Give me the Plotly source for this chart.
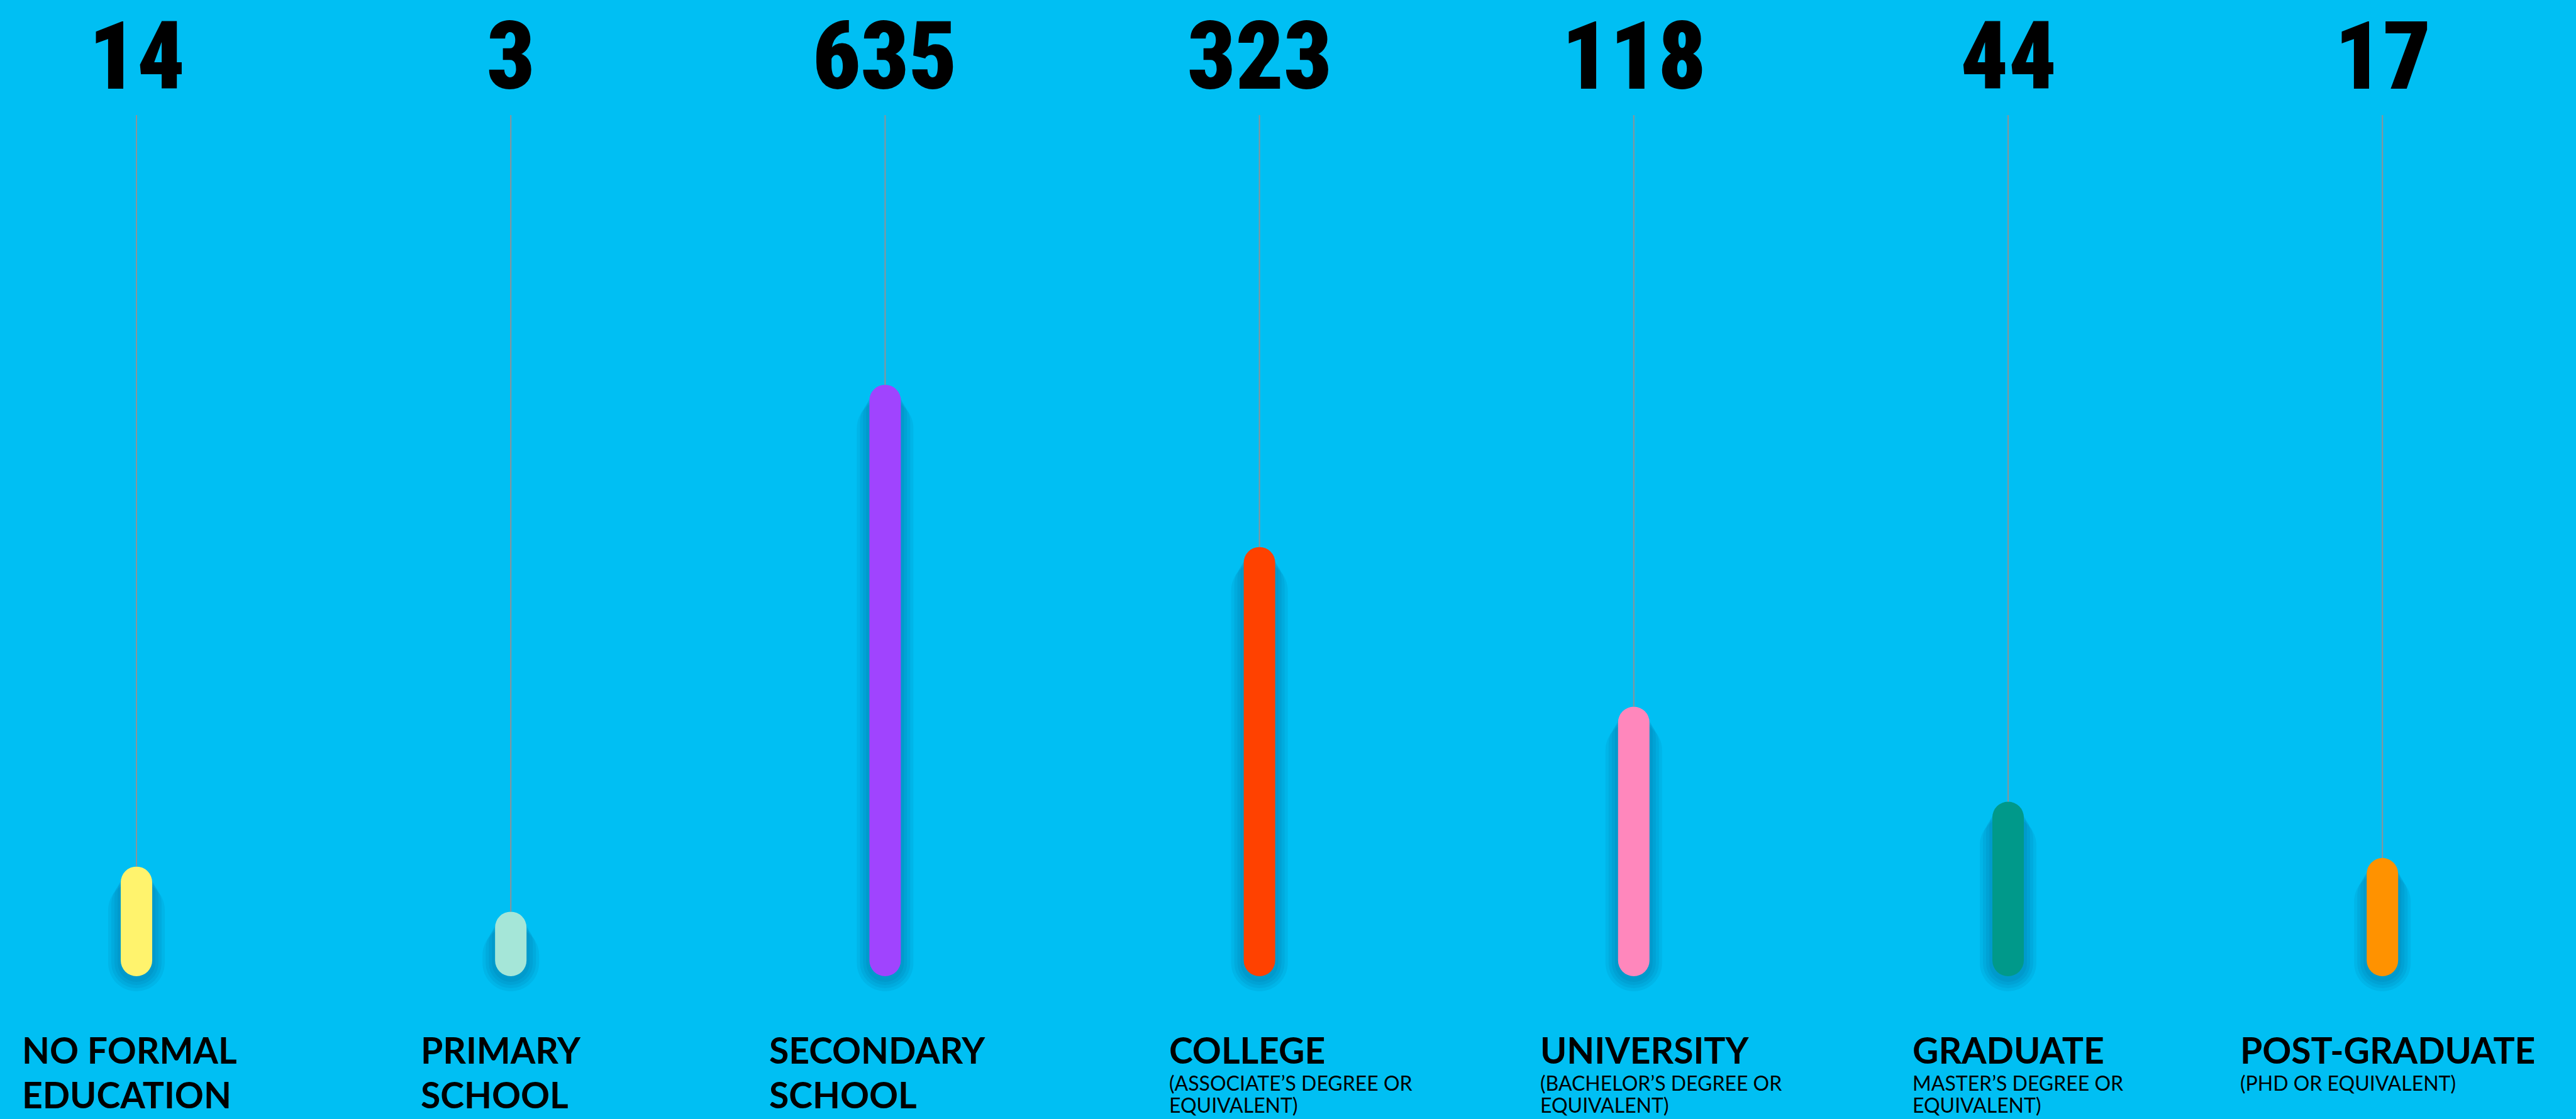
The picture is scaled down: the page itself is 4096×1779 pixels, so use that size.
import numpy as np
import plotly.graph_objects as go

# ---- data -------------------------------------------------------------
levels = [
    "NO FORMAL<br>EDUCATION",
    "PRIMARY<br>SCHOOL",
    "SECONDARY<br>SCHOOL",
    "COLLEGE",
    "UNIVERSITY",
    "GRADUATE",
    "POST-GRADUATE",
]
level_notes = [
    "",
    "",
    "",
    "(ASSOCIATE’S DEGREE OR<br>EQUIVALENT)",
    "(BACHELOR’S DEGREE OR<br>EQUIVALENT)",
    "MASTER’S DEGREE OR<br>EQUIVALENT)",
    "(PHD OR EQUIVALENT)",
]
respondents = [14, 3, 635, 323, 118, 44, 17]

# ---- styling ----------------------------------------------------------
pill_colors = ["#FFF36D", "#A5E6D8", "#A044FE", "#FF4100", "#FF87BC", "#00998A", "#FF9200"]
BG = "#00BFF3"
W, H = 4096, 1779

SLOT_PX = 595.2          # horizontal distance between two pills
FIRST_PX = 217           # centre of the first pill
BASE_PX = 1552           # where the pills end at the bottom
UNIT_PX = 35.7           # pixels per sqrt(respondent)
FLOOR = 1.14             # extra pill length so tiny groups stay visible
PILL_PX = 50             # pill thickness
STRING_TOP_PX = 183      # where the strings start

NUM_FONT = ("Roboto Condensed, Open Sans Condensed, Noto Sans ExtraCondensed, "
            "DejaVu Sans Condensed, sans-serif")
LABEL_FONT = "Lato, sans-serif"

# label block left edges, in category units relative to each pill
label_offsets = [-0.309, -0.244, -0.314, -0.245, -0.254, -0.259, -0.383]

x_range = [-FIRST_PX / SLOT_PX, (W - FIRST_PX) / SLOT_PX]
y_hi = -FLOOR + BASE_PX / UNIT_PX
y_lo = -FLOOR - (H - BASE_PX) / UNIT_PX

x = np.arange(len(respondents))
# square-root scale keeps the small groups visible next to the large ones
top = np.sqrt(np.array(respondents, dtype=float))
length = top + FLOOR

fig = go.Figure()

# strings the pills hang from
sx, sy = [], []
for xi, t in zip(x, top):
    sx += [xi, xi, None]
    sy += [-FLOOR + (BASE_PX - STRING_TOP_PX) / UNIT_PX, t, None]
fig.add_trace(go.Scatter(x=sx, y=sy, mode="lines",
                         line=dict(color="#8E9397", width=2),
                         hoverinfo="skip", showlegend=False))

# soft shadow around each pill, built from a few translucent layers
for j in range(1, 5):
    grow = 5 * j
    drop = (4 + 5 * j) / UNIT_PX
    w = (PILL_PX + 2 * grow) / SLOT_PX
    fig.add_trace(go.Bar(
        x=x, y=length, base=-FLOOR - drop, width=w,
        marker=dict(color="rgba(0,45,90,0.065)", cornerradius="50%",
                    line=dict(width=0)),
        hoverinfo="skip", showlegend=False))

# the pills
fig.add_trace(go.Bar(
    x=x, y=length, base=-FLOOR, width=PILL_PX / SLOT_PX,
    marker=dict(color=pill_colors, cornerradius="50%", line=dict(width=0)),
    customdata=respondents, hovertemplate="%{customdata}<extra></extra>",
    showlegend=False))

annotations = []
# big counts on top
for xi, v in zip(x, respondents):
    annotations.append(dict(
        x=xi, xref="x", y=1, yref="paper", yanchor="top",
        xanchor="center", text=str(v), showarrow=False,
        font=dict(family=NUM_FONT, size=150, color="#000000", weight=900)))


def baseline_to_paper(baseline_px, size):
    # bottom of an annotation box sits a descent (plus padding) below the baseline
    return 1 - (baseline_px + 0.213 * size + 1) / H


# category names and notes underneath, one annotation per line
for xi, name, note, off in zip(x, levels, level_notes, label_offsets):
    for k, line in enumerate(name.split("<br>")):
        annotations.append(dict(
            x=xi + off, xref="x", y=baseline_to_paper(1692 + 71 * k, 57),
            yref="paper", yanchor="bottom", xanchor="left", text=line,
            showarrow=False,
            font=dict(family=LABEL_FONT, size=57, color="#000000", weight="bold")))
    if note:
        for k, line in enumerate(note.split("<br>")):
            annotations.append(dict(
                x=xi + off, xref="x", y=baseline_to_paper(1735 + 35 * k, 32),
                yref="paper", yanchor="bottom", xanchor="left", text=line,
                showarrow=False,
                font=dict(family=LABEL_FONT, size=32, color="#000000")))

fig.update_layout(
    width=W, height=H,
    margin=dict(l=0, r=0, t=0, b=0),
    paper_bgcolor=BG, plot_bgcolor=BG,
    barmode="overlay",
    xaxis=dict(range=x_range, visible=False, fixedrange=True),
    yaxis=dict(range=[y_lo, y_hi], visible=False, fixedrange=True),
    annotations=annotations,
    showlegend=False,
)

fig.write_html("out.html")
